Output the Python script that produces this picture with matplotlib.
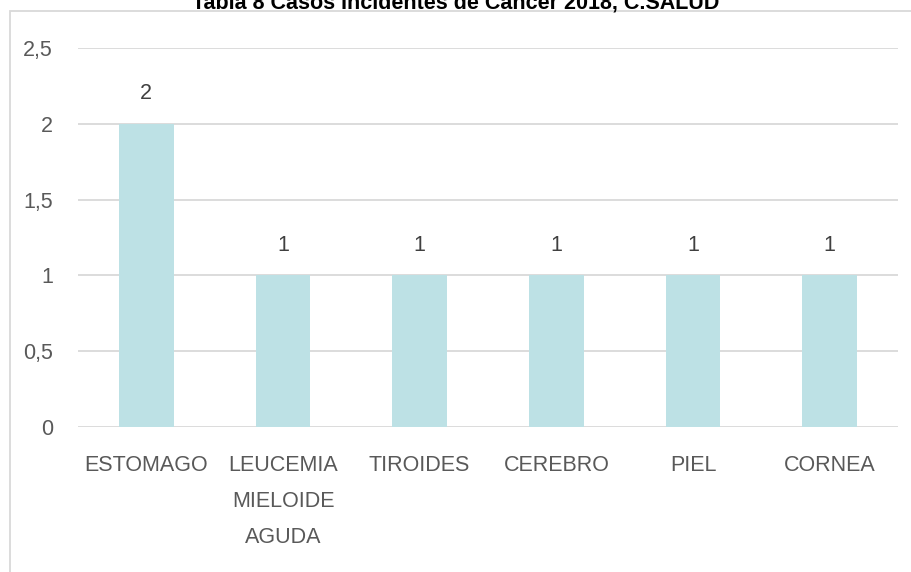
import matplotlib
matplotlib.use('Agg')
from matplotlib import pyplot as plt
from matplotlib.patches import Rectangle

plt.rcParams['font.family'] = ['Liberation Sans', 'DejaVu Sans']

categories = ['ESTOMAGO', 'LEUCEMIA\nMIELOIDE\nAGUDA', 'TIROIDES', 'CEREBRO', 'PIEL', 'CORNEA']
casos = [2, 1, 1, 1, 1, 1]
y_ticks = [0, 0.5, 1, 1.5, 2, 2.5]
y_tick_labels = ['0', '0,5', '1', '1,5', '2', '2,5']
title = 'Tabla 8 Casos Incidentes de Cancer 2018, C.SALUD'

W, H = 911, 572
fig = plt.figure(figsize=(W / 100, H / 100), dpi=100)

# chart frame (light grey box, runs off the right and bottom edges)
fig.patches.append(Rectangle((10 / W, -0.1), 1.2, 1 - 11 / H + 0.1,
                             transform=fig.transFigure, fill=False,
                             edgecolor='#D9D9D9', linewidth=1.3))

ax = fig.add_axes([78 / W, 1 - 427 / H, (898 - 78) / W, (427 - 48) / H])

x = range(len(categories))
bars = ax.bar(x, casos, width=0.4, color='#BDE1E5', zorder=2)
for b, v in zip(bars, casos):
    ax.annotate(str(v), (b.get_x() + b.get_width() / 2, v), xytext=(0, 14),
                textcoords='offset points', ha='center', va='bottom',
                fontsize=15.5, color='#404040')

ax.set_xlim(-0.5, len(categories) - 0.5)
ax.set_ylim(0, 2.5)
ax.set_yticks(y_ticks)
ax.set_yticklabels(y_tick_labels)
ax.set_xticks(list(x))
ax.set_xticklabels(categories, linespacing=1.95, va='top')

ax.grid(axis='y', color='#D9D9D9', linewidth=1.3, zorder=0)
ax.set_axisbelow(True)
for s in ax.spines.values():
    s.set_visible(False)
ax.tick_params(axis='both', length=0, labelsize=15.5, labelcolor='#595959')
ax.tick_params(axis='y', pad=18)
ax.tick_params(axis='x', pad=20)

fig.text(0.5, 1 - 8 / H, title, ha='center', va='baseline',
         fontsize=15.5, fontweight='bold', family=['Liberation Sans', 'DejaVu Sans'])

fig.savefig('out.png', dpi=100)
